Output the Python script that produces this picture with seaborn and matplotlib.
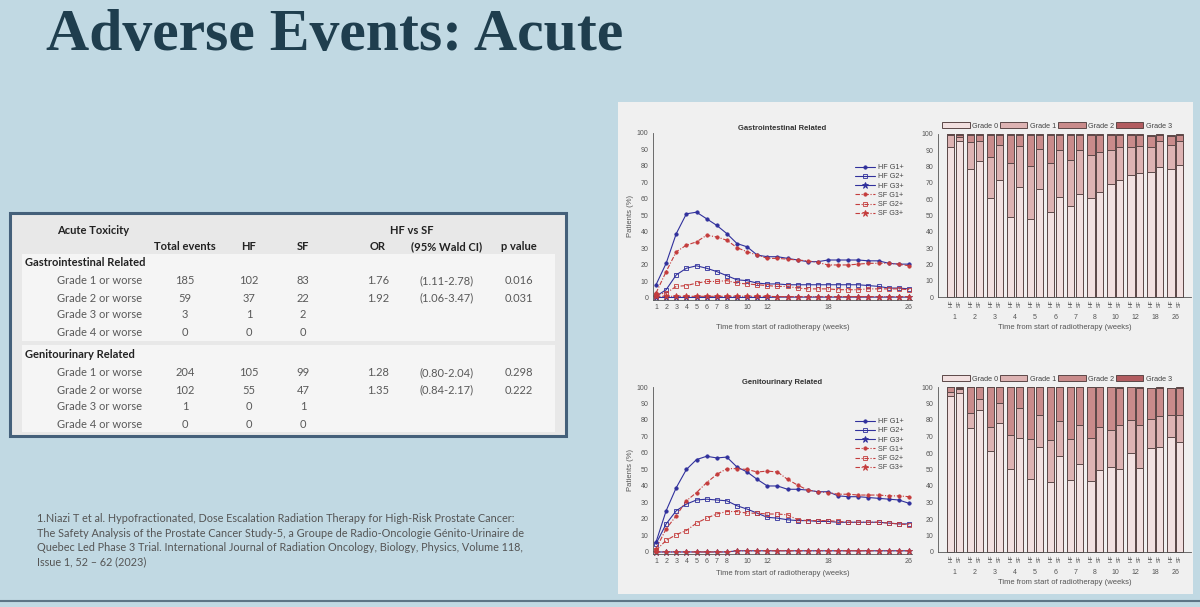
import matplotlib
matplotlib.use("Agg")
import matplotlib.pyplot as plt
from matplotlib.patches import Rectangle
import numpy as np
import seaborn as sns

W, H = 1200, 607
BG = "#c1d9e3"
PANEL = "#f0f0f0"
HF_COL = "#30309c"
SF_COL = "#c43c3c"
GRADE_COLS = ["#f2e0e0", "#ddb3b3", "#c98b8b", "#b25c60"]
BAR_EDGE = "#5c4848"
AX_COL = "#555555"

# ---- table data ----
tox_grades = ["Grade 1 or worse", "Grade 2 or worse", "Grade 3 or worse", "Grade 4 or worse"]
gi_total = ["185", "59", "3", "0"]
gi_hf = ["102", "37", "1", "0"]
gi_sf = ["83", "22", "2", "0"]
gi_or = ["1.76", "1.92", "", ""]
gi_ci = ["(1.11-2.78)", "(1.06-3.47)", "", ""]
gi_p = ["0.016", "0.031", "", ""]
gu_total = ["204", "102", "1", "0"]
gu_hf = ["105", "55", "0", "0"]
gu_sf = ["99", "47", "1", "0"]
gu_or = ["1.28", "1.35", "", ""]
gu_ci = ["(0.80-2.04)", "(0.84-2.17)", "", ""]
gu_p = ["0.298", "0.222", "", ""]

# ---- weekly line data (% patients) ----
weeks = list(range(1, 27))
gi_hf_g1 = [8, 21, 39, 51, 52, 48, 44, 39, 33, 31, 26, 25, 25, 24, 23, 22, 22, 23, 23, 23, 23, 22.5, 22.5, 21, 20.5, 20.5]
gi_hf_g2 = [1, 5, 14, 18, 19.5, 18, 16, 13.5, 11, 10.5, 9, 8.5, 8.5, 8, 8, 8, 8, 8, 8, 8, 8, 7.5, 7, 6, 6, 5.5]
gi_hf_g3 = [0.3, 0.3, 0.3, 0.3, 0.3, 0.3, 0.3, 0.3, 0.3, 0.3, 0.3, 0.3, 0.5, 0.5, 0.5, 0.5, 0.5, 0.5, 0.5, 0.5, 0.5, 0.5, 0.5, 0.5, 0.5, 0.5]
gi_sf_g1 = [3, 16, 28, 32, 34, 38, 37, 35, 30.5, 28, 26, 24, 24, 23.5, 23, 22.5, 21.5, 20, 20, 20, 20.5, 21, 21, 21, 20.5, 19.5]
gi_sf_g2 = [2, 3, 7, 7.5, 9, 10, 10, 10.5, 9, 8.5, 8, 7.5, 7, 7, 6, 5.5, 5.5, 5.5, 5, 5, 5, 5.5, 5.5, 5.5, 5.5, 5]
gi_sf_g3 = [1, 1, 1, 1, 1, 1, 1, 1, 1, 1, 1, 1, 0.8, 0.8, 0.8, 0.8, 0.8, 0.8, 0.8, 0.8, 0.8, 0.8, 0.8, 0.8, 0.8, 0.8]

gu_hf_g1 = [6, 25, 39, 50, 56, 58, 57, 57.5, 51.5, 48.5, 44, 40, 40, 38, 38, 37.5, 36.5, 36.5, 34, 33.5, 33.5, 33, 32.5, 32, 31.5, 29.5]
gu_hf_g2 = [5, 17, 25, 29, 31.5, 32, 31.5, 31, 28, 26, 23.5, 21, 20.5, 19.5, 19, 19, 18.5, 18.5, 18, 18, 18, 18, 18, 17.5, 17, 17]
gu_hf_g3 = [0, 0, 0, 0, 0, 0, 0, 0, 0.7, 0.7, 0.7, 0.7, 0.7, 0.7, 0.7, 0.7, 0.7, 0.7, 0.7, 0.7, 0.7, 0.7, 0.7, 0.7, 0.7, 0.7]
gu_sf_g1 = [2, 14, 22, 31, 36, 42, 47, 50.5, 50.5, 50, 48.5, 49, 48.5, 44, 40.5, 37.5, 36.5, 36, 35, 35, 34.5, 34.5, 34.5, 34, 34, 33.5]
gu_sf_g2 = [1, 7, 10.5, 13, 17.5, 20.5, 23, 24.5, 24.5, 23.5, 23.5, 23, 23, 22.5, 19.5, 19, 19, 19, 18.5, 18, 18, 18, 18, 17.5, 17, 16.5]
gu_sf_g3 = [0, 0, 0, 0, 0, 0, 0, 0, 0.7, 0.7, 0.7, 0.7, 0.7, 0.7, 0.7, 0.7, 0.7, 0.7, 0.7, 0.7, 0.7, 0.7, 0.7, 0.7, 0.7, 0.7]

# ---- stacked bar data (% patients per grade) ----
bar_weeks = ["1", "2", "3", "4", "5", "6", "7", "8", "10", "12", "18", "26"]
grade_names = ["Grade 0", "Grade 1", "Grade 2", "Grade 3"]
gi_bar_hf = [
    [92.0, 78.5, 61.0, 49.0, 48.0, 52.0, 56.0, 61.0, 69.5, 75.0, 76.5, 78.5],
    [7.5, 16.5, 25.0, 33.0, 32.5, 30.5, 28.0, 26.0, 20.5, 17.0, 15.5, 15.0],
    [0.3, 4.3, 13.3, 17.3, 18.8, 16.8, 15.3, 12.3, 9.3, 7.3, 6.5, 5.0],
    [0.2, 0.7, 0.7, 0.7, 0.7, 0.7, 0.7, 0.7, 0.7, 0.7, 1.0, 0.9],
]
gi_bar_sf = [
    [96.0, 83.5, 72.0, 67.5, 66.0, 61.5, 63.0, 64.5, 72.0, 76.0, 80.0, 81.0],
    [2.0, 12.5, 21.0, 25.0, 25.0, 28.5, 27.0, 24.5, 20.0, 16.5, 15.5, 14.5],
    [1.3, 3.3, 6.3, 6.8, 8.3, 9.3, 9.3, 10.3, 7.3, 6.8, 3.8, 3.8],
    [0.7, 0.7, 0.7, 0.7, 0.7, 0.7, 0.7, 0.7, 0.7, 0.7, 0.7, 0.7],
]
gu_bar_hf = [
    [94.5, 75.0, 61.0, 50.5, 44.0, 42.5, 43.5, 43.0, 51.5, 60.0, 63.0, 70.0],
    [2.7, 9.0, 14.5, 20.5, 24.5, 25.5, 25.0, 26.0, 22.5, 20.0, 17.5, 13.0],
    [2.8, 16.0, 24.5, 29.0, 31.5, 32.0, 31.5, 31.0, 26.0, 20.0, 19.0, 16.3],
    [0, 0, 0, 0, 0, 0, 0, 0, 0, 0, 0, 0],
]
gu_bar_sf = [
    [96.5, 86.0, 78.0, 69.0, 63.5, 58.0, 53.5, 49.5, 50.5, 51.0, 63.5, 66.5],
    [2.3, 7.0, 12.3, 18.0, 19.5, 21.5, 23.5, 26.5, 26.5, 26.0, 19.0, 16.5],
    [0.7, 7.0, 9.7, 13.0, 17.0, 20.5, 23.0, 24.0, 22.3, 22.3, 17.0, 16.5],
    [0.5, 0, 0, 0, 0, 0, 0, 0, 0.7, 0.7, 0.5, 0.5],
]

footnote = [
    "1.Niazi T et al. Hypofractionated, Dose Escalation Radiation Therapy for High-Risk Prostate Cancer:",
    "The Safety Analysis of the Prostate Cancer Study-5, a Groupe de Radio-Oncologie Génito-Urinaire de",
    "Quebec Led Phase 3 Trial. International Journal of Radiation Oncology, Biology, Physics, Volume 118,",
    "Issue 1, 52 – 62 (2023)",
]

sns.set_style("white")
plt.rcParams["font.family"] = ["Liberation Sans", "DejaVu Sans"]


def px_axes(fig, x0, y0, x1, y1):
    return fig.add_axes([x0 / W, 1 - y1 / H, (x1 - x0) / W, (y1 - y0) / H])


def style_axes(ax):
    for side in ["top", "right"]:
        ax.spines[side].set_visible(False)
    for side in ["left", "bottom"]:
        ax.spines[side].set_color(AX_COL)
        ax.spines[side].set_linewidth(0.6)
    ax.set_facecolor("none")
    ax.tick_params(axis="both", labelsize=5, colors=AX_COL, length=2, width=0.5, pad=1.5)


def draw_lines(ax, data, title, xlabel_pad):
    hf_g1, hf_g2, hf_g3, sf_g1, sf_g2, sf_g3 = data
    dashdot = (0, (4, 1.5, 1, 1.5))
    series = [
        ("HF G1+", hf_g1, HF_COL, "-", "o", HF_COL, 2.4),
        ("HF G2+", hf_g2, HF_COL, "-", "s", "none", 3.3),
        ("HF G3+", hf_g3, HF_COL, "-", "*", HF_COL, 4.5),
        ("SF G1+", sf_g1, SF_COL, dashdot, "o", SF_COL, 2.4),
        ("SF G2+", sf_g2, SF_COL, dashdot, "s", "none", 3.3),
        ("SF G3+", sf_g3, SF_COL, dashdot, "*", SF_COL, 4.5),
    ]
    for label, vals, col, ls, mk, mfc, ms in series:
        sns.lineplot(x=weeks, y=vals, ax=ax, color=col, linestyle=ls, linewidth=0.8,
                     marker=mk, markersize=ms, markerfacecolor=mfc, markeredgecolor=col,
                     markeredgewidth=0.6, label=label, clip_on=False)
    style_axes(ax)
    ax.set_xlim(0.7, 26.3)
    ax.set_ylim(-1, 100)
    ax.set_xticks([1, 2, 3, 4, 5, 6, 7, 8, 10, 12, 18, 26])
    ax.set_yticks(range(0, 101, 10))
    ax.set_title(title, fontsize=5.5, fontweight="bold", color="#333333", pad=2)
    ax.set_xlabel("Time from start of radiotherapy (weeks)", fontsize=5.5, color=AX_COL, labelpad=xlabel_pad)
    ax.set_ylabel("Patients (%)", fontsize=5.5, color=AX_COL, labelpad=2)
    leg = ax.legend(loc="upper right", bbox_to_anchor=(0.98, 0.83), frameon=False, fontsize=5.2,
                    handlelength=2.8, labelspacing=0.3, handletextpad=0.4, borderaxespad=0)
    for t in leg.get_texts():
        t.set_color("#444444")


def draw_bars(ax, hf, sf):
    idx = np.arange(len(bar_weeks))
    pos_hf = idx * 2.3
    pos_sf = idx * 2.3 + 1
    positions = np.concatenate([pos_hf, pos_sf])
    stacks = np.concatenate([np.array(hf), np.array(sf)], axis=1)
    tops = np.cumsum(stacks, axis=0)
    for k in range(3, -1, -1):
        sns.barplot(x=positions, y=tops[k], native_scale=True, width=0.85, color=GRADE_COLS[k],
                    edgecolor=BAR_EDGE, linewidth=0.7, errorbar=None, saturation=1, ax=ax)
    for p in ax.patches:
        p.set_clip_on(False)
    style_axes(ax)
    ax.set_xlim(-1.44, 27.6)
    ax.set_ylim(0, 100)
    ax.set_yticks(range(0, 101, 10))
    ticks = np.sort(positions)
    ax.set_xticks(ticks)
    ax.set_xticklabels(["HF", "SF"] * len(bar_weeks), rotation=90, fontsize=4)
    ax.tick_params(axis="x", length=0, pad=2)
    for i, wk in enumerate(bar_weeks):
        ax.text(pos_hf[i] + 0.5, -0.125, wk, transform=ax.get_xaxis_transform(),
                ha="center", va="center", fontsize=5, color=AX_COL)
    ax.set_xlabel("Time from start of radiotherapy (weeks)", fontsize=5.5, color=AX_COL, labelpad=12)
    ax.set_ylabel("")
    handles = [Rectangle((0, 0), 1, 1, facecolor=c, edgecolor=BAR_EDGE, linewidth=0.7) for c in GRADE_COLS]
    leg = ax.legend(handles, grade_names, loc="lower center", bbox_to_anchor=(0.47, 1.0), ncol=4,
                    frameon=False, fontsize=5.2, handlelength=3.8, handleheight=1.0,
                    columnspacing=0.3, handletextpad=0.3, borderaxespad=0.2)
    for t in leg.get_texts():
        t.set_color("#444444")


fig = plt.figure(figsize=(W / 100, H / 100), dpi=100)
fig.patch.set_facecolor(BG)

bg = fig.add_axes([0, 0, 1, 1])
bg.set_xlim(0, W)
bg.set_ylim(H, 0)
bg.axis("off")

# title
bg.text(46, 50, "Adverse Events: Acute", fontsize=43, fontweight="bold", family="Liberation Serif",
        color="#1f3e4e", ha="left", va="baseline")

# right panel
bg.add_patch(Rectangle((618, 102), 575, 492, facecolor=PANEL, edgecolor="none"))

# bottom line
bg.plot([0, W], [601, 601], color="#5d7485", linewidth=1.5)

# table
tfont = "Lato"
bg.add_patch(Rectangle((10, 213), 556, 223, facecolor="#e8e8e8", edgecolor="#44607a", linewidth=2.2))
bg.add_patch(Rectangle((22, 254), 533, 87, facecolor="#f5f5f5", edgecolor="none"))
bg.add_patch(Rectangle((22, 345), 533, 87, facecolor="#f5f5f5", edgecolor="none"))
hdr = dict(family=tfont, fontsize=8, fontweight="bold", color="#222222", va="center")
body = dict(family=tfont, fontsize=8, color="#595959", va="center")
col_x = [185, 249, 303, 378, 447, 519]
bg.text(57, 230, "Acute Toxicity", ha="left", **hdr)
bg.text(412, 230, "HF vs SF", ha="center", **hdr)
for x, name in zip(col_x, ["Total events", "HF", "SF", "OR", "(95% Wald CI)", "p value"]):
    bg.text(x, 247, name, ha="center", **hdr)
sections = [
    ("Gastrointestinal Related", 263, [gi_total, gi_hf, gi_sf, gi_or, gi_ci, gi_p]),
    ("Genitourinary Related", 355, [gu_total, gu_hf, gu_sf, gu_or, gu_ci, gu_p]),
]
for name, y0, cols in sections:
    bg.text(25, y0, name, ha="left", **hdr)
    for r, grade in enumerate(tox_grades):
        y = y0 + 18 + r * 17
        bg.text(57, y, grade, ha="left", **body)
        for x, col in zip(col_x, cols):
            bg.text(x, y, col[r], ha="center", **body)

# footnote
for i, line in enumerate(footnote):
    bg.text(37, 519 + i * 14.3, line, family=tfont, fontsize=7.8, color="#555555", ha="left", va="center")

# charts
ax_gi_l = px_axes(fig, 653, 133, 912, 299.6)
draw_lines(ax_gi_l, [gi_hf_g1, gi_hf_g2, gi_hf_g3, gi_sf_g1, gi_sf_g2, gi_sf_g3],
           "Gastrointestinal Related", 9)
ax_gu_l = px_axes(fig, 653, 387, 912, 553.6)
draw_lines(ax_gu_l, [gu_hf_g1, gu_hf_g2, gu_hf_g3, gu_sf_g1, gu_sf_g2, gu_sf_g3],
           "Genitourinary Related", 3)

ax_gi_b = px_axes(fig, 938, 134, 1191, 297)
draw_bars(ax_gi_b, gi_bar_hf, gi_bar_sf)
ax_gu_b = px_axes(fig, 938, 387, 1191, 552)
draw_bars(ax_gu_b, gu_bar_hf, gu_bar_sf)

fig.savefig("out.png", dpi=100, facecolor=BG)
